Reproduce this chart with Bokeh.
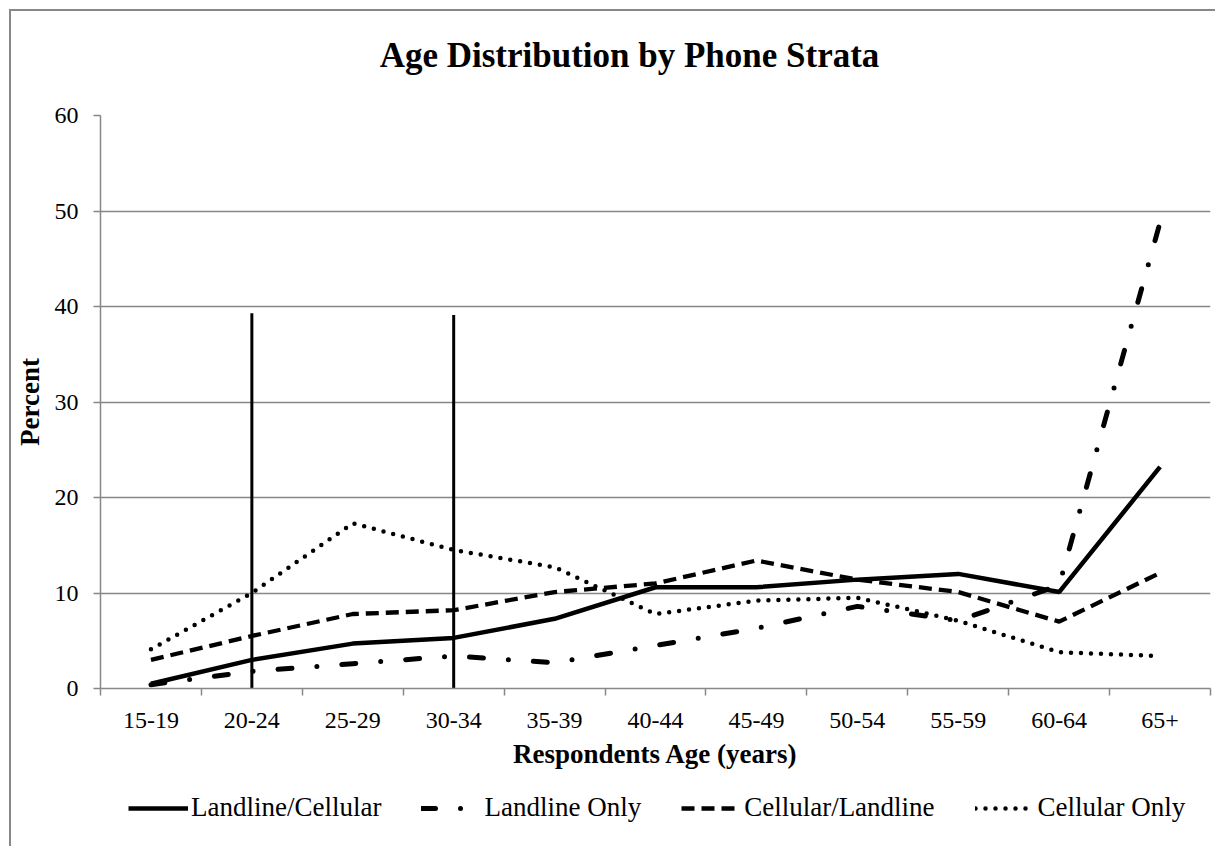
from bokeh.plotting import figure
from bokeh.layouts import column
from bokeh.models import FixedTicker, Legend, LegendItem, Range1d, Label
from bokeh.embed import file_html
from bokeh.resources import INLINE

# ---- data ----
ages = ["15-19", "20-24", "25-29", "30-34", "35-39", "40-44",
        "45-49", "50-54", "55-59", "60-64", "65+"]
landline_cellular = [0.5, 3.0, 4.7, 5.3, 7.3, 10.6, 10.6, 11.4, 12.0, 10.1, 23.2]
landline_only = [0.4, 1.8, 2.6, 3.4, 2.7, 4.5, 6.3, 8.6, 7.1, 10.8, 48.8]
cellular_landline = [3.0, 5.5, 7.8, 8.2, 10.1, 11.0, 13.4, 11.4, 10.1, 7.0, 12.1]
cellular_only = [4.1, 10.0, 17.3, 14.5, 12.7, 7.8, 9.2, 9.5, 7.1, 3.8, 3.4]
marker_ages = ["20-24", "30-34"]
marker_tops = [39.3, 39.1]
y_ticks = [0, 10, 20, 30, 40, 50, 60]
series_names = ["Landline/Cellular", "Landline Only", "Cellular/Landline", "Cellular Only"]
title_text = "Age Distribution by Phone Strata"

FONT = "Liberation Serif"
GREY = "#878787"

styles = [dict(line_color="black", line_width=4.5),
          dict(line_color="black", line_width=5, line_dash="14 25 0 25", line_cap="round"),
          dict(line_color="black", line_width=4.3, line_dash="13 7"),
          dict(line_color="black", line_width=4.5, line_dash="0 10", line_cap="round")]
series = [landline_cellular, landline_only, cellular_landline, cellular_only]

x = list(range(len(ages)))


def strip(h):
    f = figure(frame_width=1204, frame_height=h, output_backend="svg",
               toolbar_location=None, x_range=Range1d(-0.5, len(ages) - 0.5),
               y_range=Range1d(-200, -100), min_border=0)
    f.border_fill_color = None
    f.background_fill_color = None
    f.outline_line_color = None
    f.axis.visible = False
    f.grid.visible = False
    return f


# title strip
tt = strip(70)
tt.add_layout(Label(x=529, y=26, x_units="screen", y_units="screen", text=title_text,
                    text_font=FONT, text_font_size="35px", text_font_style="bold",
                    text_align="center", text_baseline="middle", text_color="black"))

p = figure(frame_width=1110, frame_height=573, output_backend="svg",
           toolbar_location=None,
           x_range=Range1d(-0.5, len(ages) - 0.5), y_range=Range1d(0, 60),
           min_border_left=87, min_border_right=7, min_border_top=34,
           min_border_bottom=95)
p.border_fill_color = None
p.background_fill_color = None
p.outline_line_color = None

# x axis: labels at category centres, tick marks between categories
xa = p.xaxis[0]
xa.ticker = FixedTicker(ticks=x, minor_ticks=[i - 0.5 for i in range(len(ages) + 1)])
xa.major_label_overrides = {i: a for i, a in enumerate(ages)}
xa.major_tick_line_color = None
xa.minor_tick_line_color = GREY
xa.minor_tick_line_width = 1.5
xa.minor_tick_in = 0
xa.minor_tick_out = 7
xa.axis_line_color = GREY
xa.axis_line_width = 1.5
xa.major_label_text_font = FONT
xa.major_label_text_font_size = "24px"
xa.major_label_text_color = "black"
xa.major_label_standoff = 17
xa.axis_label = "Respondents Age (years)"
xa.axis_label_text_font = FONT
xa.axis_label_text_font_size = "27px"
xa.axis_label_text_font_style = "bold"
xa.axis_label_text_color = "black"
xa.axis_label_standoff = 8

ya = p.yaxis[0]
ya.ticker = FixedTicker(ticks=y_ticks, minor_ticks=[])
ya.major_tick_line_color = GREY
ya.major_tick_line_width = 1.5
ya.major_tick_in = 0
ya.major_tick_out = 7
ya.axis_line_color = GREY
ya.axis_line_width = 1.5
ya.major_label_text_font = FONT
ya.major_label_text_font_size = "24px"
ya.major_label_text_color = "black"
ya.major_label_standoff = 15
ya.axis_label = "Percent"
ya.axis_label_text_font = FONT
ya.axis_label_text_font_size = "27px"
ya.axis_label_text_font_style = "bold"
ya.axis_label_text_color = "black"
ya.axis_label_standoff = 7

p.xgrid.visible = False
p.ygrid.ticker = FixedTicker(ticks=y_ticks, minor_ticks=[])
p.ygrid.grid_line_color = GREY
p.ygrid.grid_line_width = 1.5

for vals, st in zip(series, styles):
    p.line(x, vals, **st)

mx = [ages.index(a) for a in marker_ages]
p.segment(x0=mx, y0=[0] * len(mx), x1=mx, y1=marker_tops,
          line_color="black", line_width=3)

# legend strip below the chart (its lines lie outside its visible range)
lg = strip(63)
items = []
for name, vals, st in zip(series_names, series, styles):
    r = lg.line(x, vals, **st)
    items.append(LegendItem(label=name, renderers=[r]))

legend = Legend(items=items, orientation="horizontal", location=(117, 23))
legend.label_text_font = FONT
legend.label_text_font_size = "27px"
legend.label_text_color = "black"
legend.glyph_width = 60
legend.label_standoff = 3
legend.spacing = 40
legend.border_line_color = None
legend.background_fill_alpha = 0
legend.margin = 0
legend.padding = 2
lg.add_layout(legend)

layout = column(tt, p, lg, spacing=0,
                styles={"margin-left": "9px", "margin-top": "9px",
                        "border-left": "2px solid #888888",
                        "border-top": "2px solid #888888"})

open("out.html", "w").write(file_html(layout, INLINE))
